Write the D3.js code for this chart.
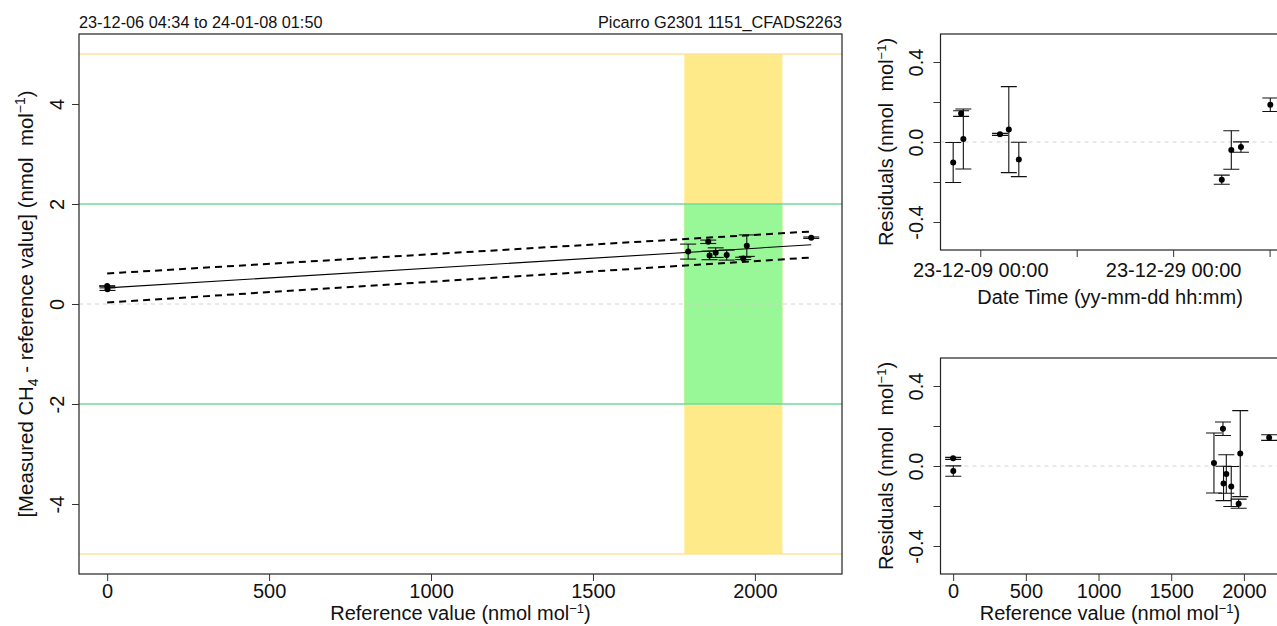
<!DOCTYPE html>
<html>
<head>
<meta charset="utf-8">
<script src="https://cdn.jsdelivr.net/npm/d3@7"></script>
<style>
  html, body { margin: 0; padding: 0; background: #fff; }
  svg { display: block; font-family: "Liberation Sans", Arial, sans-serif; }
</style>
</head>
<body>
<svg id="chart" width="1277" height="626"></svg>
<script>
// Calibration runs (ordered by time)
const sampleTimes = [
  "2023-12-06T04:34Z", "2023-12-07T00:15Z", "2023-12-07T05:50Z", "2023-12-11T01:00Z",
  "2023-12-11T23:00Z", "2023-12-12T23:55Z", "2024-01-03T01:00Z", "2024-01-04T00:45Z",
  "2024-01-05T00:45Z", "2024-01-08T01:50Z"
];
const referenceValues = [1913, 2174, 1794, 0, 1975, 1860, 1964, 1879, 1, 1856];      // nmol/mol
const measuredMinusRef = [0.978, 1.326, 1.048, 0.360, 1.167, 0.972, 0.912, 1.027, 0.297, 1.244];
const uncertainties = [0.100, 0.014, 0.150, 0.005, 0.215, 0.086, 0.023, 0.096, 0.026, 0.034];

// Confidence band of the fit, read at both ends of the reference range
const bandRefs = [0, 2174];
const bandUpper = [0.61, 1.45];
const bandLower = [0.03, 0.93];

// Compatibility goals
const wmoTarget = 2;       // green
const extendedTarget = 5;  // yellow
const ambientRange = [1782, 2085];

// Axis ticks
const mainXTicks = [0, 500, 1000, 1500, 2000];
const mainYTicks = [-4, -2, 0, 2, 4];
const resYTicks = [-0.4, -0.2, 0, 0.2, 0.4];
const resYTickLabels = ["-0.4", "", "0.0", "", "0.4"];
const timeTicks = ["2023-12-09T00:00Z", "2023-12-19T00:00Z", "2023-12-29T00:00Z", "2024-01-08T00:00Z"];
const timeTickLabels = ["23-12-09 00:00", "", "23-12-29 00:00", ""];

const headerLeft = "23-12-06 04:34 to 24-01-08 01:50";
const headerRight = "Picarro G2301 1151_CFADS2263";

const svg = d3.select("#chart");
const FS = 20;

const data = sampleTimes.map((t, i) => ({
  t: new Date(t), ref: referenceValues[i], y: measuredMinusRef[i], u: uncertainties[i]
}));

// Ordinary least squares fit of (measured - reference) vs reference
const mx = d3.mean(data, d => d.ref), my = d3.mean(data, d => d.y);
const sxy = d3.sum(data, d => (d.ref - mx) * (d.y - my));
const sxx = d3.sum(data, d => (d.ref - mx) ** 2);
const slope = sxy / sxx, intercept = my - slope * mx;
data.forEach(d => { d.res = d.y - (intercept + slope * d.ref); });

// ---------- scales ----------
const refExtent = d3.extent(referenceValues);
const refDomain = [-87, 2269];

const main = { l: 79, r: 842, t: 34, b: 574 };
const xMain = d3.scaleLinear().domain(refDomain).range([main.l, main.r]);
const yMain = d3.scaleLinear().domain([-5.4, 5.4]).range([main.b, main.t]);

const rt = { l: 940.5, r: 1283, t: 34, b: 250 };
const rb = { l: 940.5, r: 1283, t: 358, b: 574 };
const tExtent = d3.extent(data, d => d.t);
const tPad = (tExtent[1] - tExtent[0]) * 0.04;
const xTime = d3.scaleUtc().domain([new Date(+tExtent[0] - tPad), new Date(+tExtent[1] + tPad)]).range([rt.l, rt.r]);
const yResTop = d3.scaleLinear().domain([-0.54, 0.54]).range([rt.b, rt.t]);
const xRes = d3.scaleLinear().domain(refDomain).range([rb.l, rb.r]);
const yResBot = d3.scaleLinear().domain([-0.54, 0.54]).range([rb.b, rb.t]);

// ---------- helpers ----------
function clip(id, box) {
  svg.append("clipPath").attr("id", id).append("rect")
    .attr("x", box.l).attr("y", box.t).attr("width", box.r - box.l).attr("height", box.b - box.t);
}
clip("clipMain", main); clip("clipRt", rt); clip("clipRb", rb);

function frame(box) {
  svg.append("rect").attr("x", box.l).attr("y", box.t)
    .attr("width", box.r - box.l).attr("height", box.b - box.t)
    .attr("fill", "none").attr("stroke", "#222").attr("stroke-width", 1.2);
}

function bottomAxis(scale, ticks, labels, y, labelY) {
  const g = svg.append("g").attr("transform", `translate(0,${y})`)
    .call(d3.axisBottom(scale).tickValues(ticks).tickSize(7).tickFormat((d, i) => labels[i]));
  g.select(".domain").remove();
  g.selectAll(".tick line").attr("stroke", "#333");
  g.selectAll(".tick text").attr("font-size", FS).attr("fill", "#111").attr("y", 0).attr("dy", labelY - y);
  g.attr("font-family", null);
}

function leftAxisRotated(scale, ticks, labels, x, baselineX) {
  const g = svg.append("g").attr("transform", `translate(${x},0)`)
    .call(d3.axisLeft(scale).tickValues(ticks).tickSize(7).tickFormat((d, i) => labels[i]));
  g.select(".domain").remove();
  g.selectAll(".tick line").attr("stroke", "#333");
  g.selectAll(".tick text").attr("font-size", FS).attr("fill", "#111")
    .attr("x", null).attr("dy", null).attr("text-anchor", "middle")
    .attr("transform", `translate(${baselineX - x},0) rotate(-90)`);
  g.attr("font-family", null);
}

function unitLabel(textSel, before) {
  textSel.append("tspan").text(before);
  textSel.append("tspan").attr("font-size", 13).attr("dy", -7).text("\u22121");
  textSel.append("tspan").attr("dy", 7).text(")");
}

function errorBars(g, pts, xf, yTop, yBot, yc) {
  const cap = 8;
  const eb = g.selectAll("g.eb").data(pts).join("g").attr("class", "eb")
    .attr("stroke", "#111").attr("stroke-width", 1.1);
  eb.append("line").attr("x1", xf).attr("x2", xf).attr("y1", yTop).attr("y2", yBot);
  eb.append("line").attr("x1", d => xf(d) - cap).attr("x2", d => xf(d) + cap).attr("y1", yTop).attr("y2", yTop);
  eb.append("line").attr("x1", d => xf(d) - cap).attr("x2", d => xf(d) + cap).attr("y1", yBot).attr("y2", yBot);
  g.selectAll("circle").data(pts).join("circle")
    .attr("cx", xf).attr("cy", yc).attr("r", 3).attr("fill", "#000");
}

// ---------- main panel ----------
const gm = svg.append("g").attr("clip-path", "url(#clipMain)");
gm.append("rect")
  .attr("x", xMain(ambientRange[0])).attr("width", xMain(ambientRange[1]) - xMain(ambientRange[0]))
  .attr("y", yMain(extendedTarget)).attr("height", yMain(-extendedTarget) - yMain(extendedTarget))
  .attr("fill", "#FFEA8A");
gm.append("rect")
  .attr("x", xMain(ambientRange[0])).attr("width", xMain(ambientRange[1]) - xMain(ambientRange[0]))
  .attr("y", yMain(wmoTarget)).attr("height", yMain(-wmoTarget) - yMain(wmoTarget))
  .attr("fill", "#98F898");
[extendedTarget, -extendedTarget].forEach(v => gm.append("line")
  .attr("x1", main.l).attr("x2", main.r).attr("y1", yMain(v)).attr("y2", yMain(v))
  .attr("stroke", "#FFE29C").attr("stroke-width", 1.6));
[wmoTarget, -wmoTarget].forEach(v => gm.append("line")
  .attr("x1", main.l).attr("x2", main.r).attr("y1", yMain(v)).attr("y2", yMain(v))
  .attr("stroke", "#72D89C").attr("stroke-width", 1.3));
gm.append("line").attr("x1", main.l).attr("x2", main.r).attr("y1", yMain(0)).attr("y2", yMain(0))
  .attr("stroke", "#d4d4d4").attr("stroke-dasharray", "4,4");

// fitted line and band
gm.append("line")
  .attr("x1", xMain(refExtent[0])).attr("x2", xMain(refExtent[1]))
  .attr("y1", yMain(intercept + slope * refExtent[0])).attr("y2", yMain(intercept + slope * refExtent[1]))
  .attr("stroke", "#000").attr("stroke-width", 1.1);
const bandLine = d3.line().x(d => xMain(d[0])).y(d => yMain(d[1]));
[bandUpper, bandLower].forEach(arr => gm.append("path")
  .attr("d", bandLine(bandRefs.map((r, i) => [r, arr[i]])))
  .attr("fill", "none").attr("stroke", "#000").attr("stroke-width", 2).attr("stroke-dasharray", "7,5"));

errorBars(gm.append("g"), data, d => xMain(d.ref), d => yMain(d.y + d.u), d => yMain(d.y - d.u), d => yMain(d.y));

frame(main);
bottomAxis(xMain, mainXTicks, mainXTicks.map(String), main.b, 598);
leftAxisRotated(yMain, mainYTicks, mainYTicks.map(String), main.l, 64);

svg.append("text").attr("x", main.l).attr("y", 28).attr("font-size", 16.3).attr("fill", "#111").text(headerLeft);
svg.append("text").attr("x", main.r).attr("y", 28).attr("font-size", 16.3).attr("fill", "#111")
  .attr("text-anchor", "end").text(headerRight);

unitLabel(svg.append("text").attr("x", (main.l + main.r) / 2).attr("y", 620)
  .attr("text-anchor", "middle").attr("font-size", FS).attr("fill", "#111"), "Reference value (nmol mol");

const yt = svg.append("text").attr("transform", `translate(33,${(main.t + main.b) / 2}) rotate(-90)`)
  .attr("text-anchor", "middle").attr("font-size", 20.4).attr("fill", "#111");
yt.append("tspan").text("[Measured CH");
yt.append("tspan").attr("font-size", 14).attr("dy", 5).text("4");
yt.append("tspan").attr("dy", -5).text(" - reference value] (nmol\u00A0\u00A0mol");
yt.append("tspan").attr("font-size", 14).attr("dy", -8).text("\u22121");
yt.append("tspan").attr("dy", 8).text(")");

// ---------- residuals vs time ----------
const gt = svg.append("g").attr("clip-path", "url(#clipRt)");
gt.append("line").attr("x1", rt.l).attr("x2", rt.r).attr("y1", yResTop(0)).attr("y2", yResTop(0))
  .attr("stroke", "#d4d4d4").attr("stroke-dasharray", "4,4");
errorBars(gt.append("g"), data, d => xTime(d.t), d => yResTop(d.res + d.u), d => yResTop(d.res - d.u), d => yResTop(d.res));
frame(rt);
bottomAxis(xTime, timeTicks.map(s => new Date(s)), timeTickLabels, rt.b, 277);
leftAxisRotated(yResTop, resYTicks, resYTickLabels, rt.l, 923);
svg.append("text").attr("x", 1110).attr("y", 304).attr("text-anchor", "middle")
  .attr("font-size", FS).attr("fill", "#111").text("Date Time (yy-mm-dd hh:mm)");
unitLabel(svg.append("text").attr("transform", `translate(893,${(rt.t + rt.b) / 2}) rotate(-90)`)
  .attr("text-anchor", "middle").attr("font-size", FS).attr("fill", "#111"), "Residuals (nmol\u00A0\u00A0mol");

// ---------- residuals vs reference ----------
const gb = svg.append("g").attr("clip-path", "url(#clipRb)");
gb.append("line").attr("x1", rb.l).attr("x2", rb.r).attr("y1", yResBot(0)).attr("y2", yResBot(0))
  .attr("stroke", "#d4d4d4").attr("stroke-dasharray", "4,4");
errorBars(gb.append("g"), data, d => xRes(d.ref), d => yResBot(d.res + d.u), d => yResBot(d.res - d.u), d => yResBot(d.res));
frame(rb);
bottomAxis(xRes, mainXTicks, mainXTicks.map(String), rb.b, 598);
leftAxisRotated(yResBot, resYTicks, resYTickLabels, rb.l, 923);
unitLabel(svg.append("text").attr("x", 1110).attr("y", 620).attr("text-anchor", "middle")
  .attr("font-size", FS).attr("fill", "#111"), "Reference value (nmol mol");
unitLabel(svg.append("text").attr("transform", `translate(893,${(rb.t + rb.b) / 2}) rotate(-90)`)
  .attr("text-anchor", "middle").attr("font-size", FS).attr("fill", "#111"), "Residuals (nmol\u00A0\u00A0mol");
</script>
</body>
</html>
